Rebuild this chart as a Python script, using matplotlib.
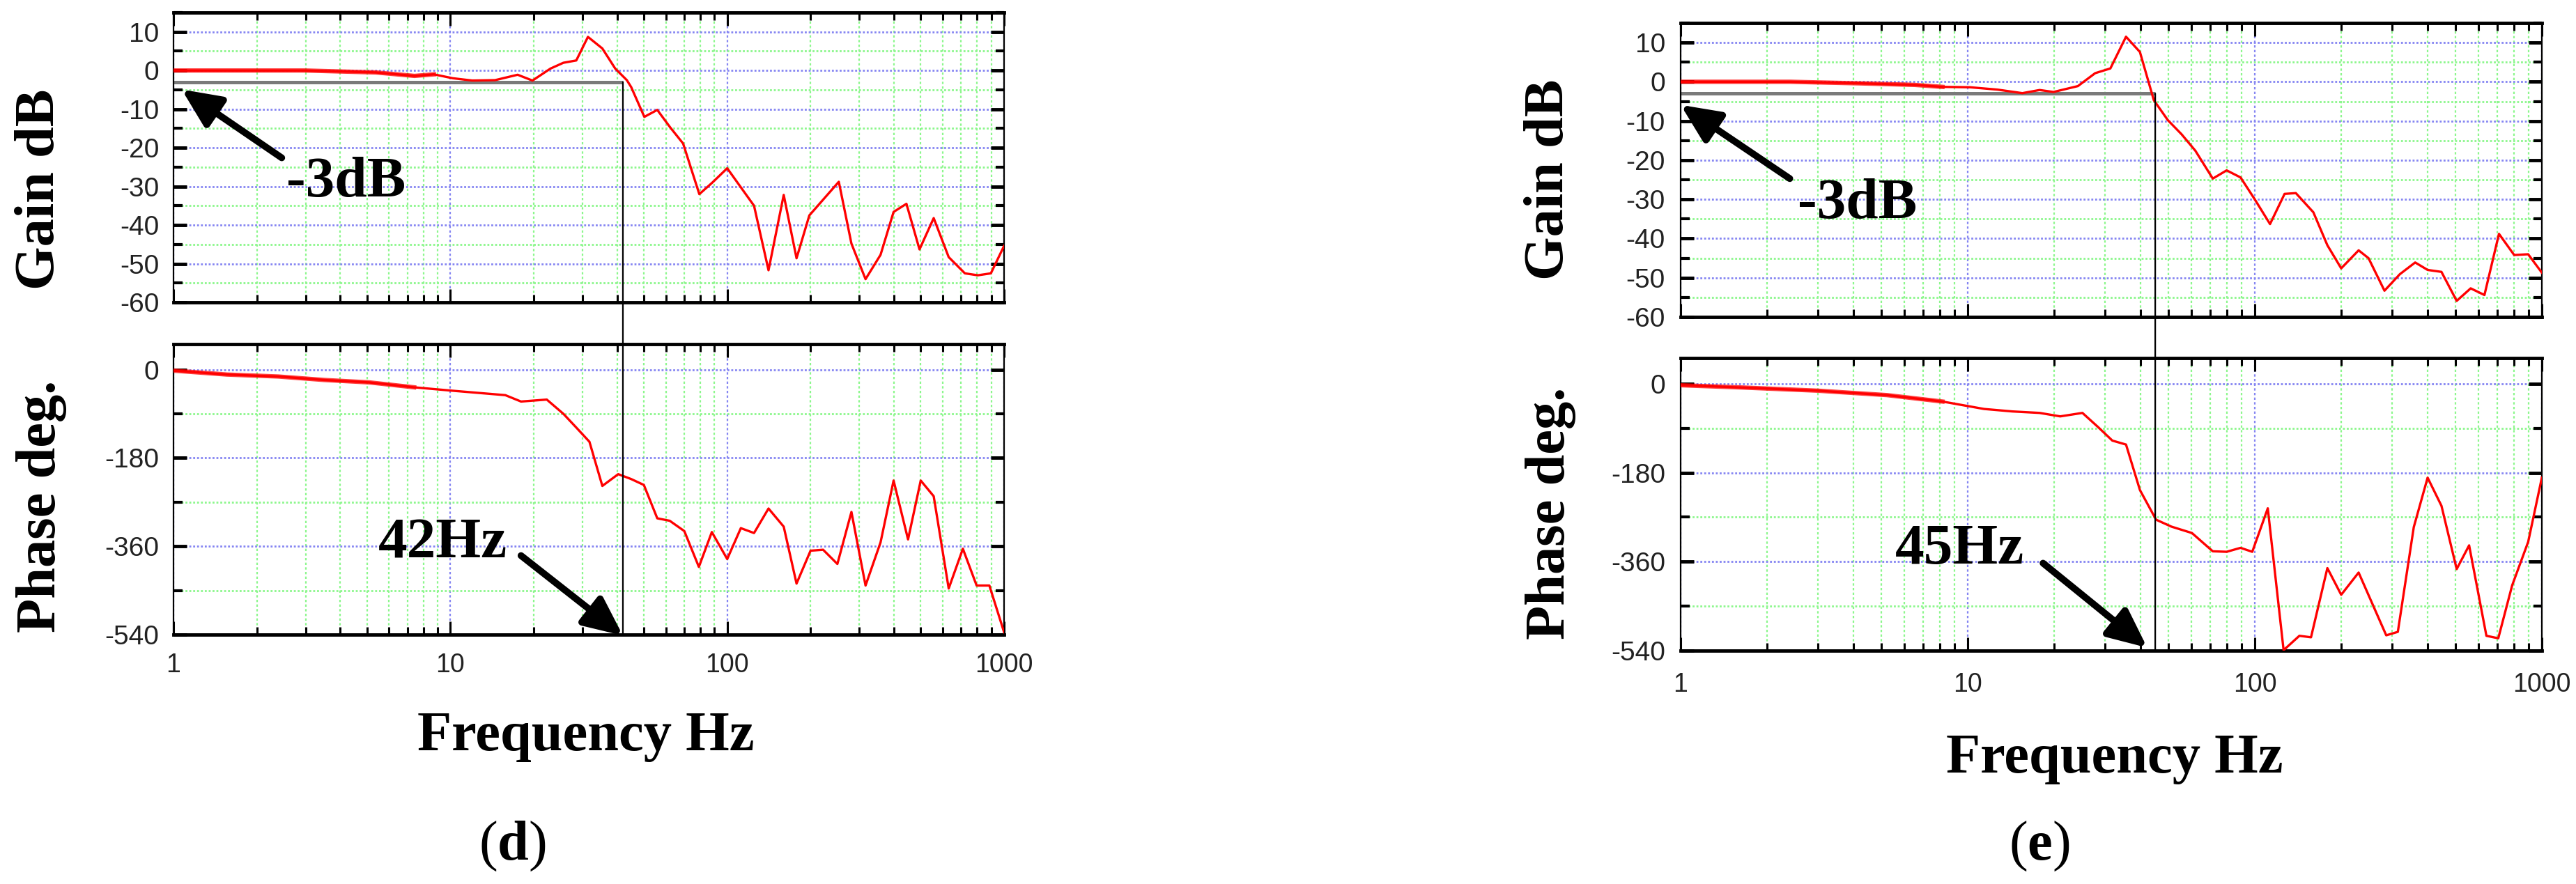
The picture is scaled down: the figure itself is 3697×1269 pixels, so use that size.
import matplotlib
matplotlib.use("Agg")
import matplotlib.pyplot as plt
from matplotlib.ticker import FixedLocator, LogLocator, NullFormatter, MultipleLocator
from matplotlib.patches import ConnectionPatch

plt.rcParams['axes.unicode_minus'] = False
plt.rcParams['mathtext.fontset'] = 'custom'
plt.rcParams['mathtext.rm'] = 'Liberation Serif'
plt.rcParams['mathtext.bf'] = 'Liberation Serif:bold'

# ---- data ----
# panel (d)
gain_d_freq = [1, 2.97, 5.37, 7.42, 8.72, 10.2, 12.0, 14.5, 17.5, 19.8, 23.0, 25.6, 28.5, 31.4, 35.4,
               39.4, 43.4, 45, 50.2, 55.9, 62.2, 69.3, 79.3, 88.4, 100, 125, 141, 160, 178, 198,
               253, 281, 316, 358, 399, 444, 495, 557, 631, 722, 804, 896, 1000]
gain_d_db = [0, 0, -0.5, -1.4, -1.0, -2.0, -2.6, -2.5, -1.1, -2.6, 0.5, 2.0, 2.6, 8.7, 5.7,
             0.5, -2.5, -4.3, -12, -10.2, -14.7, -18.9, -32, -29, -25.3, -35, -51.7, -32.2, -48.6, -37.5,
             -28.8, -44.8, -54, -47.7, -36.6, -34.5, -46.3, -38.2, -48.3, -52.5, -53, -52.5, -45.4]
phase_d_freq = [1, 1.56, 2.39, 3.49, 5.1, 7.4, 10.2, 15.8, 18, 22.3, 25.6, 28.5, 31.8, 35.4, 40.4,
                45, 50, 55.9, 62, 70, 79, 88, 100, 112, 125, 141, 160, 178, 200, 222,
                250, 281, 316, 358, 399, 450, 500, 557, 631, 710, 796, 885, 1000]
phase_d_deg = [-2, -10, -14, -21, -26, -36, -43, -52, -65, -61, -90, -118, -147, -237, -213,
               -223, -235, -303, -308, -329, -402, -331, -386, -323, -333, -283, -320, -436, -369, -367,
               -396, -290, -440, -352, -226, -346, -226, -258, -446, -365, -440, -440, -535]

# panel (e)
gain_e_freq = [1, 2.41, 4.2, 6.55, 8.17, 10.2, 12.7, 15.5, 17.8, 19.9, 24.2, 27.8, 31.4, 35.6, 39.8,
               44.5, 49.8, 55.6, 62.1, 71.4, 79.8, 89.2, 100, 113, 127, 139, 160, 179, 200, 230,
               249, 283, 320, 362, 400, 447, 505, 565, 631, 709, 801, 896, 1000]
gain_e_db = [0, 0, -0.4, -0.8, -1.3, -1.4, -2.0, -2.9, -2.1, -2.6, -1.1, 2.2, 3.4, 11.5, 7.6,
             -4.7, -9.8, -13.4, -17.6, -24.7, -22.6, -24.4, -30, -36.3, -28.6, -28.4, -33.3, -41.7, -47.6, -43,
             -45, -53.3, -49.1, -46.1, -48, -48.5, -55.9, -52.7, -54.4, -38.8, -44.2, -44, -48.7]
phase_e_freq = [1, 1.63, 3.0, 5.24, 8.17, 11.4, 14.3, 17.8, 21.0, 25.1, 28.5, 31.9, 35.6, 39.8, 45.3,
                51.2, 60.4, 71.4, 79.8, 89.2, 98, 111, 126, 143, 157, 179, 200, 230, 287, 315,
                358, 400, 447, 505, 558, 641, 705, 788, 896, 1000]
phase_e_deg = [-3, -7.5, -14, -23, -36, -51, -56, -59, -66, -59, -88, -115, -123, -215, -275,
               -289, -302, -339, -340, -332, -340, -252, -539, -510, -513, -373, -427, -382, -509, -502,
               -290, -190, -247, -375, -327, -510, -515, -408, -320, -190]

cutoff_hz = {'d': 42, 'e': 45}
gain_ticks = [10, 0, -10, -20, -30, -40, -50, -60]
phase_ticks = [0, -180, -360, -540]
freq_ticks = [1, 10, 100, 1000]

W, H = 3697, 1269
SERIF = 'Liberation Serif'
SANS = 'Liberation Sans'
RED = '#ff0000'
BLUE = '#8585f2'
GREEN = '#8cf78c'


def box(x0, y0, x1, y1):
    # pixel box (top-left origin) -> figure fraction rect
    return [x0 / W, 1 - y1 / H, (x1 - x0) / W, (y1 - y0) / H]


def style_axes(ax, ylim, minor, ticks, pad_x, pad_y, show_x):
    ax.set_xscale('log')
    ax.set_xlim(1, 1000)
    ax.set_ylim(*ylim)
    ax.xaxis.set_major_locator(FixedLocator(freq_ticks))
    ax.xaxis.set_minor_locator(LogLocator(base=10, subs=range(2, 10)))
    ax.xaxis.set_minor_formatter(NullFormatter())
    ax.yaxis.set_major_locator(FixedLocator(ticks))
    ax.yaxis.set_minor_locator(MultipleLocator(minor))
    ax.set_yticklabels([str(t) for t in ticks])
    if show_x:
        ax.set_xticklabels([str(t) for t in freq_ticks])
    else:
        ax.set_xticklabels([])
    ax.grid(which='major', axis='x', color=BLUE, ls=(0, (1.5, 1.5)), lw=1.6)
    ax.grid(which='minor', axis='x', color=GREEN, ls=(0, (1.5, 1.5)), lw=1.6)
    ax.grid(which='major', axis='y', color=BLUE, ls=(0, (1, 1)), lw=2.0)
    ax.grid(which='minor', axis='y', color=GREEN, ls=(0, (1, 1)), lw=2.0)
    ax.set_axisbelow(True)
    ax.tick_params(axis='x', which='both', direction='in', top=True, bottom=True, width=2.2)
    ax.tick_params(axis='x', which='major', length=14, pad=pad_x, labelsize=27, labelcolor='#222')
    ax.tick_params(axis='x', which='minor', length=8)
    ax.tick_params(axis='y', which='both', direction='in', left=True, right=True)
    ax.tick_params(axis='y', which='major', length=14, width=3.5, pad=pad_y, labelsize=28, labelcolor='#222')
    ax.tick_params(axis='y', which='minor', length=9, width=3)
    for lab in ax.get_xticklabels() + ax.get_yticklabels():
        lab.set_fontfamily(SANS)
    for s in ('top', 'bottom'):
        ax.spines[s].set_linewidth(3.5)
    for s in ('left', 'right'):
        ax.spines[s].set_linewidth(1.6)


def draw_panel(tag, gain_box, phase_box, gf, gd, pf, pd, pads, text_pos):
    fc = cutoff_hz[tag]
    axg = fig.add_axes(box(*gain_box))
    axp = fig.add_axes(box(*phase_box))
    style_axes(axg, (-60, 15), 5, gain_ticks, pads[0], pads[1], False)
    style_axes(axp, (-540, 52), 90, phase_ticks, pads[0], pads[1], True)

    # -3 dB reference line
    axg.plot([1, fc], [-3, -3], color='#7a7a7a', lw=3.6, solid_capstyle='butt', zorder=2)

    lo = [i for i, f in enumerate(gf) if f <= 9]
    axg.plot([gf[i] for i in lo], [gd[i] for i in lo], color=RED, lw=4.5, alpha=0.75, zorder=3)
    axg.plot(gf, gd, color=RED, lw=2.4, zorder=3)
    lo = [i for i, f in enumerate(pf) if f <= 9]
    axp.plot([pf[i] for i in lo], [pd[i] for i in lo], color=RED, lw=4.5, alpha=0.75, zorder=3)
    axp.plot(pf, pd, color=RED, lw=2.4, zorder=3)

    # cutoff marker spanning both panels
    con = ConnectionPatch(xyA=(fc, -3), coordsA=axg.transData,
                          xyB=(fc, -540), coordsB=axp.transData, color='black', lw=1.6, zorder=5)
    fig.add_artist(con)

    arrow = dict(arrowstyle='-|>,head_length=1.2,head_width=0.55', lw=7, color='black',
                 mutation_scale=28, shrinkA=0, shrinkB=0)
    g = text_pos['gain']
    axg.annotate('', xy=g['head'], xytext=g['tail'], arrowprops=arrow, annotation_clip=False, zorder=6)
    axg.text(*g['text'], '-3dB', ha='center', va='center', fontsize=60, fontweight='bold', family=SERIF)
    p = text_pos['phase']
    axp.annotate('', xy=p['head'], xytext=p['tail'], arrowprops=arrow, annotation_clip=False, zorder=6)
    axp.text(*p['text'], f'{fc}Hz', ha='center', va='center', fontsize=60, fontweight='bold', family=SERIF)


fig = plt.figure(figsize=(W / 100, H / 100), dpi=100)

draw_panel('d', (249, 18, 1441, 434), (249, 494, 1441, 911),
           gain_d_freq, gain_d_db, phase_d_freq, phase_d_deg, (19, 15),
           {'gain': {'head': (1.07, -4.9), 'tail': (2.46, -22.6), 'text': (4.21, -29.1)},
            'phase': {'head': (42, -542), 'tail': (18.0, -379), 'text': (9.4, -355)}})
draw_panel('e', (2412, 33, 3648, 455), (2412, 514, 3648, 934),
           gain_e_freq, gain_e_db, phase_e_freq, phase_e_deg, (22, 16),
           {'gain': {'head': (1.0, -5.9), 'tail': (2.4, -24.7), 'text': (4.13, -31.3)},
            'phase': {'head': (42.2, -534), 'tail': (18.3, -363), 'text': (9.4, -337)}})

lab = dict(fontsize=58, fontweight='bold', family=SERIF, ha='center', va='center')
fig.text(57 / W, 1 - 272 / H, 'Gain dB', rotation=90, **lab)
fig.text(60 / W, 1 - 727 / H, 'Phase deg.', rotation=90, **lab)
fig.text(2223 / W, 1 - 258 / H, 'Gain dB', rotation=90, **lab)
fig.text(2226 / W, 1 - 737 / H, 'Phase deg.', rotation=90, **lab)
fig.text(841 / W, 1 - 1058 / H, 'Frequency Hz', **lab)
fig.text(3035 / W, 1 - 1090 / H, 'Frequency Hz', **lab)
fig.text(735 / W, 1 - 1215 / H, r'($\mathbf{d}$)', fontsize=58, family=SERIF, ha='center', va='center')
fig.text(2927 / W, 1 - 1215 / H, r'($\mathbf{e}$)', fontsize=58, family=SERIF, ha='center', va='center')

fig.savefig('out.png', dpi=100)
